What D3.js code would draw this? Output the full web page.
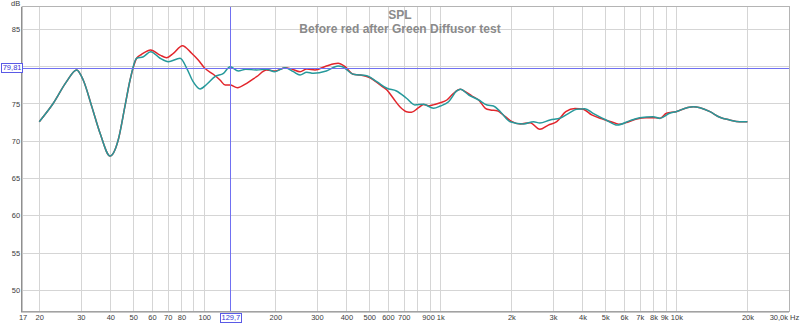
<!DOCTYPE html>
<html>
<head>
<meta charset="utf-8">
<script src="https://cdn.jsdelivr.net/npm/d3@7"></script>
<style>
  html, body { margin: 0; padding: 0; background: #ffffff; }
  svg { display: block; }
  .grid line { stroke: #d5d5d5; stroke-width: 1; shape-rendering: crispEdges; }
  .grid path { display: none; }
  .lbl path, .lbl line { display: none; }
  .lbl text { font-family: "Liberation Sans", Arial, sans-serif; font-size: 7.5px; fill: #3c3c3c; }
</style>
</head>
<body>
<svg id="chart" width="800" height="323"></svg>
<script>
// Frequency response, SPL in dB versus frequency in Hz (log axis)
const redFreq = [20, 22.9, 26.1, 28.8, 30.7, 33.4, 36.2, 39.9, 43.2, 46.1, 48.5, 51.7, 54.3, 59.3, 65, 69.3, 74, 80.8, 88.4, 94.3,
  100.6, 109.2, 116.6, 122.6, 128.7, 138.2, 151.3, 166.6, 183.6, 199.4, 219.8, 234.7, 254.5, 271.8, 294.7, 329, 369, 395,
  428, 457, 504, 556, 594, 632, 674, 719, 755, 806, 850, 900, 940, 1000, 1066, 1138, 1216, 1276, 1362, 1454, 1552, 1630,
  1738, 1886, 2012, 2180, 2400, 2640, 2868, 3114, 3400, 3720, 4030, 4378, 4905, 5580, 5732, 6290, 6790, 7440, 8160, 8520,
  9080, 9960, 11100, 11800, 12600, 13880, 15280, 16820, 18520, 20000];
const redDb = [72.56, 75.0, 77.93, 79.5, 78.15, 74.57, 71.0, 67.95, 70.1, 74.57, 78.15, 81.07, 81.6, 82.18, 81.5, 81.15, 81.74, 82.76, 81.74, 80.84,
  79.72, 78.92, 78.15, 77.48, 77.48, 77.12, 77.71, 78.6, 79.5, 79.36, 79.81, 79.63, 79.27, 79.63, 79.5, 80.03, 80.4, 79.94,
  78.92, 78.83, 78.46, 77.48, 76.81, 75.7, 74.57, 73.9, 73.82, 74.4, 74.85, 74.7, 74.85, 75.1, 75.47, 76.37, 76.9, 76.58, 76.0, 75.47, 74.36, 74.13,
  74.03, 73.23, 72.56, 72.25, 72.42, 71.54, 72.1, 72.56, 73.9, 74.33, 74.23, 73.46, 72.88, 72.3, 72.2, 72.56, 72.92, 73.1, 73.1, 73.0,
  73.68, 73.9, 74.43, 74.57, 74.43, 73.9, 73.15, 72.79, 72.56, 72.56];

const greenFreq = [20, 22.9, 26.1, 28.8, 30.7, 33.4, 36.2, 39.9, 43.2, 46.1, 48.5, 51.7, 55.2, 59.3, 65, 70.4, 79, 84.3, 89.7, 96,
  102.5, 111, 120.6, 128.7, 139.4, 149.8, 166.6, 183.6, 199, 220, 238.6, 254.5, 271.8, 290, 329, 369, 385, 428, 488, 538,
  594, 652, 719, 780, 848, 936, 1000, 1084, 1174, 1216, 1320, 1454, 1578, 1680, 1796, 1978, 2254, 2484, 2640, 2916, 3212,
  3538, 3780, 4096, 4440, 5060, 5620, 6360, 7000, 7980, 8520, 9360, 9960, 11100, 11800, 12600, 13880, 15280, 16820, 18520, 20000];
const greenDb = [72.56, 75.0, 77.93, 79.5, 78.15, 74.57, 71.0, 67.95, 70.1, 74.57, 78.15, 81.07, 81.28, 81.95, 81.07, 80.6, 81.07, 79.72, 77.93, 76.95,
  77.58, 78.6, 79.05, 79.94, 79.36, 79.59, 79.5, 79.59, 79.27, 79.81, 79.27, 78.83, 79.19, 79.05, 79.36, 80.03, 79.94, 78.92, 78.73, 77.93,
  77.04, 76.68, 75.7, 74.8, 74.9, 74.36, 74.66, 75.24, 76.68, 76.9, 76.14, 75.47, 74.8, 74.66, 73.9, 72.56, 72.25, 72.56, 72.38, 72.79, 73.01,
  73.77, 74.23, 74.3, 73.68, 72.75, 72.1, 72.7, 73.1, 73.23, 73.01, 73.68, 73.9, 74.43, 74.57, 74.43, 73.9, 73.15, 72.79, 72.56, 72.56];

// Axis ticks
const gridFreqs = [20, 30, 40, 50, 60, 70, 80, 90, 100, 200, 300, 400, 500, 600, 700, 800, 900,
  1000, 2000, 3000, 4000, 5000, 6000, 7000, 8000, 9000, 10000, 20000];
const labelFreqs = [17, 20, 30, 40, 50, 60, 70, 80, 100, 200, 300, 400, 500, 600, 700, 900,
  1000, 2000, 3000, 4000, 5000, 6000, 7000, 8000, 9000, 10000, 20000, 30000];
const labelTexts = ["17", "20", "30", "40", "50", "60", "70", "80", "100", "200", "300", "400", "500", "600", "700", "900",
  "1k", "2k", "3k", "4k", "5k", "6k", "7k", "8k", "9k", "10k", "20k", "30,0k Hz"];
const dbGrid = [50, 55, 60, 65, 70, 75, 80, 85];
const dbLabels = [50, 55, 60, 65, 70, 75, 85];

// Cursor readout
const cursorFreq = 129.7, cursorFreqText = "129,7";
const cursorDb = 79.81, cursorDbText = "79,81";

const titleLines = ["SPL", "Before red after Green Diffusor test"];

const W = 800, H = 323;
const plot = { left: 22.6, right: 789, top: 7, bottom: 311 };

const x = d3.scaleLog().domain([17, 30000]).range([plot.left, plot.right]);
const y = d3.scaleLinear().domain([47.15, 87.95]).range([plot.bottom, plot.top]);

const svg = d3.select("#chart");

svg.append("defs").append("clipPath").attr("id", "clip")
  .append("rect").attr("x", plot.left).attr("y", plot.top)
  .attr("width", plot.right - plot.left).attr("height", plot.bottom - plot.top);

// Grid
svg.append("g").attr("class", "grid")
  .attr("transform", `translate(0,${plot.bottom})`)
  .call(d3.axisBottom(x).tickValues(gridFreqs).tickSize(-(plot.bottom - plot.top)).tickFormat(""));
svg.append("g").attr("class", "grid")
  .attr("transform", `translate(${plot.left},0)`)
  .call(d3.axisLeft(y).tickValues(dbGrid).tickSize(-(plot.right - plot.left)).tickFormat(""));

// Title
const title = svg.append("g");
titleLines.forEach((t, i) => {
  title.append("text")
    .attr("x", 400).attr("y", 18.5 + i * 14.8)
    .attr("text-anchor", "middle")
    .attr("font-family", "Liberation Sans, Arial, sans-serif")
    .attr("font-weight", "bold").attr("font-size", 12)
    .attr("fill", "#8a8a8a")
    .text(t);
});

// Traces
const line = d3.line().x(d => x(d[0])).y(d => y(d[1])).curve(d3.curveMonotoneX);
const traces = svg.append("g").attr("clip-path", "url(#clip)");
traces.append("path")
  .datum(redFreq.map((f, i) => [f, redDb[i]]))
  .attr("d", line).attr("fill", "none")
  .attr("stroke", "#e2262c").attr("stroke-width", 1.5).attr("stroke-linejoin", "round");
traces.append("path")
  .datum(greenFreq.map((f, i) => [f, greenDb[i]]))
  .attr("d", line).attr("fill", "none")
  .attr("stroke", "#26999b").attr("stroke-width", 1.5).attr("stroke-linejoin", "round");

// Frame
svg.append("rect")
  .attr("x", plot.left - 0.5).attr("y", plot.top - 0.5)
  .attr("width", plot.right - plot.left + 1).attr("height", plot.bottom - plot.top + 1)
  .attr("fill", "none").attr("stroke", "#b4b4b4").attr("stroke-width", 1);
svg.append("path")
  .attr("d", `M${plot.left - 1},${plot.top} V${plot.bottom + 1} H${plot.right}`)
  .attr("fill", "none").attr("stroke", "#8f8f8f").attr("stroke-width", 1.2);

// Cursor lines
const cy = Math.round(y(cursorDb)) + 0.5;
const cx = Math.floor(x(cursorFreq)) + 0.5;
svg.append("rect")
  .attr("x", plot.left).attr("y", cy - 0.5).attr("width", plot.right - plot.left).attr("height", 1)
  .attr("fill", "#7070f2");
svg.append("rect")
  .attr("x", cx - 0.5).attr("y", plot.top).attr("width", 1).attr("height", plot.bottom - plot.top)
  .attr("fill", "#7070f2");

// Y labels
const yl = svg.append("g").attr("class", "lbl")
  .attr("transform", `translate(${plot.left - 2.5},0)`)
  .call(d3.axisLeft(y).tickValues(dbLabels).tickSize(0).tickPadding(0).tickFormat(d3.format("d")));
yl.selectAll("text").attr("dy", "0.34em");

svg.append("text").attr("x", 11).attr("y", 5.5)
  .attr("font-family", "Liberation Sans, Arial, sans-serif").attr("font-size", 7.5)
  .attr("fill", "#3c3c3c").text("dB");

// X labels
const xl = svg.append("g").attr("class", "lbl")
  .attr("transform", `translate(0,${plot.bottom + 2})`)
  .call(d3.axisBottom(x).tickValues(labelFreqs).tickSize(0).tickPadding(2)
    .tickFormat((d, i) => labelTexts[i]));

// keep labels apart and inside the page
const nodes = xl.selectAll(".tick").nodes();
const boxes = nodes.map(n => {
  const t = d3.select(n).select("text").node();
  const bb = t.getBBox();
  const tx = x(+d3.select(n).datum());
  return { n, t, left: tx + bb.x, right: tx + bb.x + bb.width };
});
for (let i = boxes.length - 1; i >= 0; i--) {
  const b = boxes[i];
  let shift = 0;
  if (b.right > W - 1) shift = (W - 1) - b.right;
  if (i < boxes.length - 1 && b.right + shift > boxes[i + 1].left - 2) shift = boxes[i + 1].left - 2 - b.right;
  if (shift) {
    d3.select(b.t).attr("dx", shift);
    b.left += shift; b.right += shift;
  }
}

// Cursor readout boxes
function readout(px, py, text) {
  const g = svg.append("g");
  const t = g.append("text").attr("x", px).attr("y", py)
    .attr("text-anchor", "middle").attr("dy", "0.34em")
    .attr("font-family", "Liberation Sans, Arial, sans-serif").attr("font-size", 7.5)
    .attr("fill", "#3636d8").text(text);
  const bb = t.node().getBBox();
  g.insert("rect", "text")
    .attr("x", Math.round(bb.x - 1.5) + 0.5).attr("y", Math.round(bb.y - 0.5) + 0.5)
    .attr("width", Math.round(bb.width + 2)).attr("height", Math.round(bb.height))
    .attr("fill", "#ffffff").attr("stroke", "#5a5ae6").attr("stroke-width", 1);
}
readout(plot.left - 10.5, y(cursorDb), cursorDbText);
readout(x(cursorFreq), plot.bottom + 6.5, cursorFreqText);
</script>
</body>
</html>
